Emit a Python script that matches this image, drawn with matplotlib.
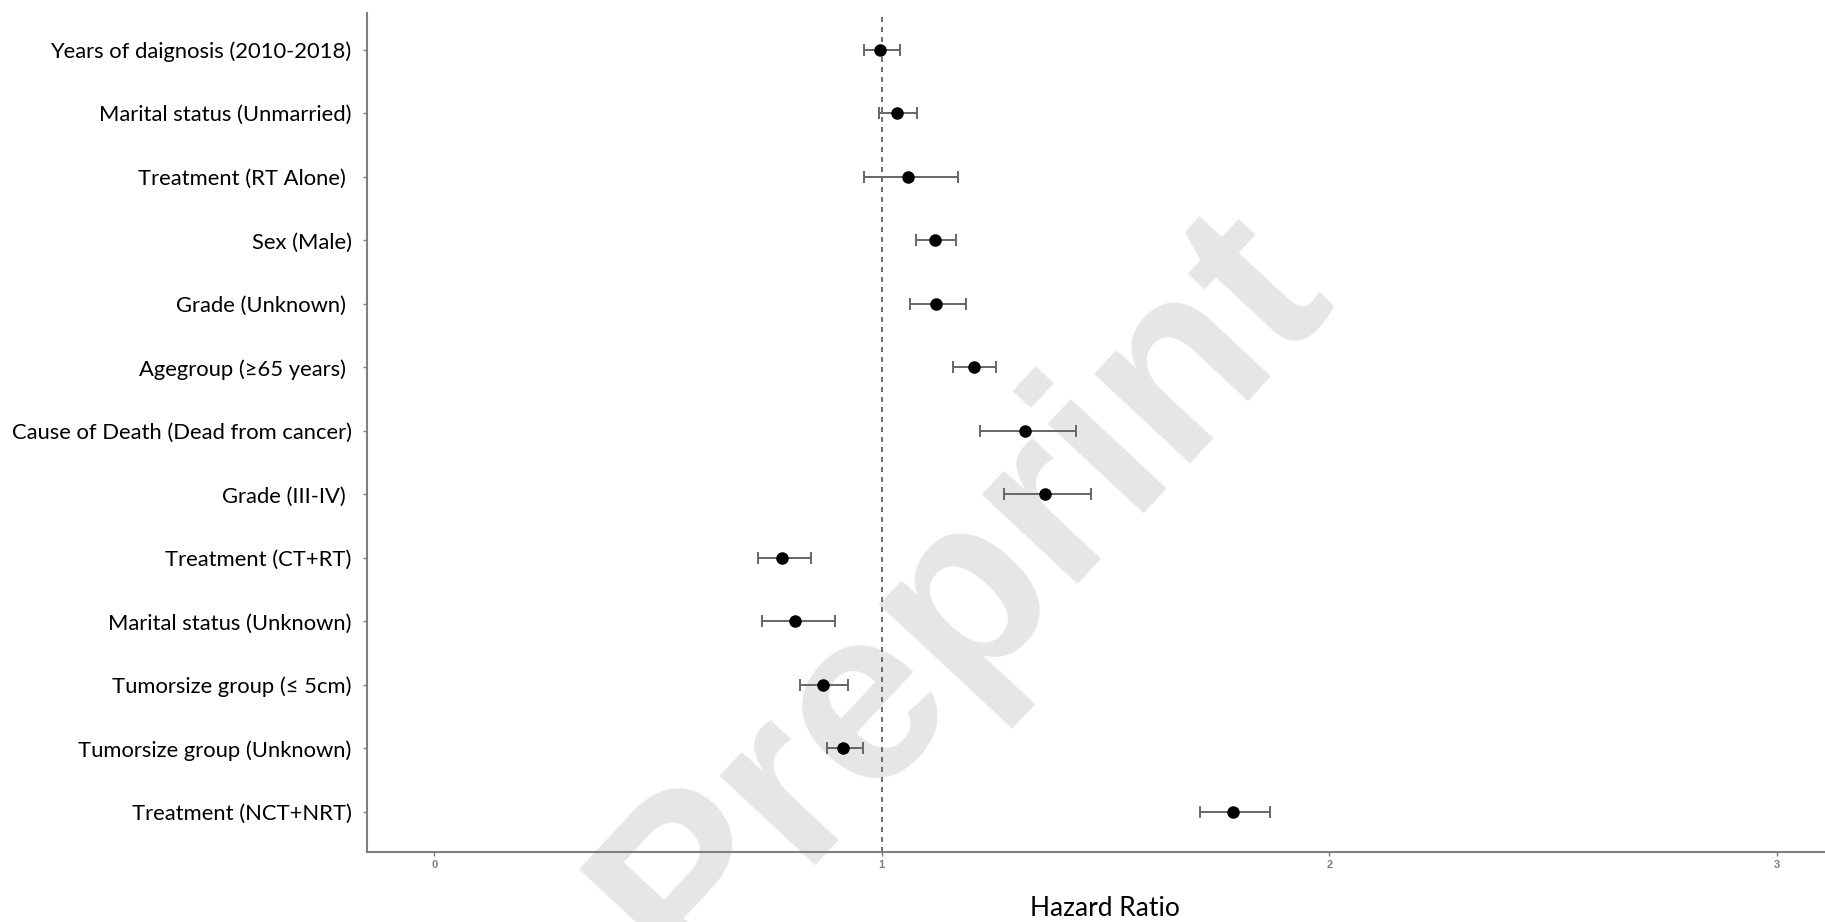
import matplotlib
matplotlib.use("Agg")
import matplotlib.pyplot as plt
import numpy as np

# hazard ratios with 95% confidence intervals
labels = [
    "Years of daignosis (2010-2018)",
    "Marital status (Unmarried)",
    "Treatment (RT Alone) ",
    "Sex (Male)",
    "Grade (Unknown) ",
    "Agegroup (\u226565 years) ",
    "Cause of Death (Dead from cancer)",
    "Grade (III-IV) ",
    "Treatment (CT+RT)",
    "Marital status (Unknown)",
    "Tumorsize group (\u2264 5cm)",
    "Tumorsize group (Unknown)",
    "Treatment (NCT+NRT)",
]
hr = [0.996, 1.033, 1.059, 1.118, 1.122, 1.205, 1.319, 1.364,
      0.778, 0.807, 0.869, 0.914, 1.784]
lower = [0.960, 0.993, 0.960, 1.077, 1.062, 1.159, 1.219, 1.274,
         0.723, 0.732, 0.818, 0.878, 1.711]
upper = [1.040, 1.078, 1.170, 1.166, 1.187, 1.255, 1.433, 1.467,
         0.841, 0.895, 0.925, 0.957, 1.868]
xticks = [0, 1, 2, 3]

hr = np.array(hr)
err = np.array([hr - np.array(lower), np.array(upper) - hr])
ypos = np.arange(1, len(labels) + 1)

fig = plt.figure(figsize=(18.25, 9.22), dpi=100)
ax = fig.add_axes([0.2011, 0.0759, 0.7989, 0.91])

# watermark
fig.text(0.528, 0.355, "Preprint", fontsize=178, fontweight="bold",
         family="Liberation Sans", color="#e6e6e6", rotation=47,
         ha="center", va="center", zorder=0)
ax.set_zorder(1)
ax.patch.set_alpha(0)

ax.axvline(1, color="#555555", lw=1.2, ls=(0, (3, 3)), zorder=1)
ax.errorbar(hr, ypos, xerr=err, fmt="none", ecolor="#666666",
            elinewidth=1.4, capsize=4.3, capthick=1.4, zorder=2)
ax.plot(hr, ypos, "o", color="black", markersize=8, zorder=3)

ax.set_xlim(-0.15, 3.107)
ax.set_ylim(len(labels) + 0.63, 0.42)
ax.set_yticks(ypos)
ax.set_yticklabels(labels, family="Lato", fontsize=15.8, color="black")
ax.set_xticks(xticks)
ax.set_xticklabels([str(t) for t in xticks], family="Liberation Sans",
                   fontsize=8, color="#7f7f7f", fontweight="bold")
ax.tick_params(axis="both", length=3, width=1, color="#7f7f7f")
ax.tick_params(axis="x", pad=3)
ax.tick_params(axis="y", pad=8)

for side in ["top", "right"]:
    ax.spines[side].set_visible(False)
for side in ["left", "bottom"]:
    ax.spines[side].set_color("#7f7f7f")
    ax.spines[side].set_linewidth(1.5)

ax.set_xlabel("Hazard Ratio", family="Lato", fontsize=19)
ax.xaxis.set_label_coords(0.506, -0.067, transform=ax.transAxes)
ax.xaxis.label.set_va("center")

fig.savefig("out.png", dpi=100)
